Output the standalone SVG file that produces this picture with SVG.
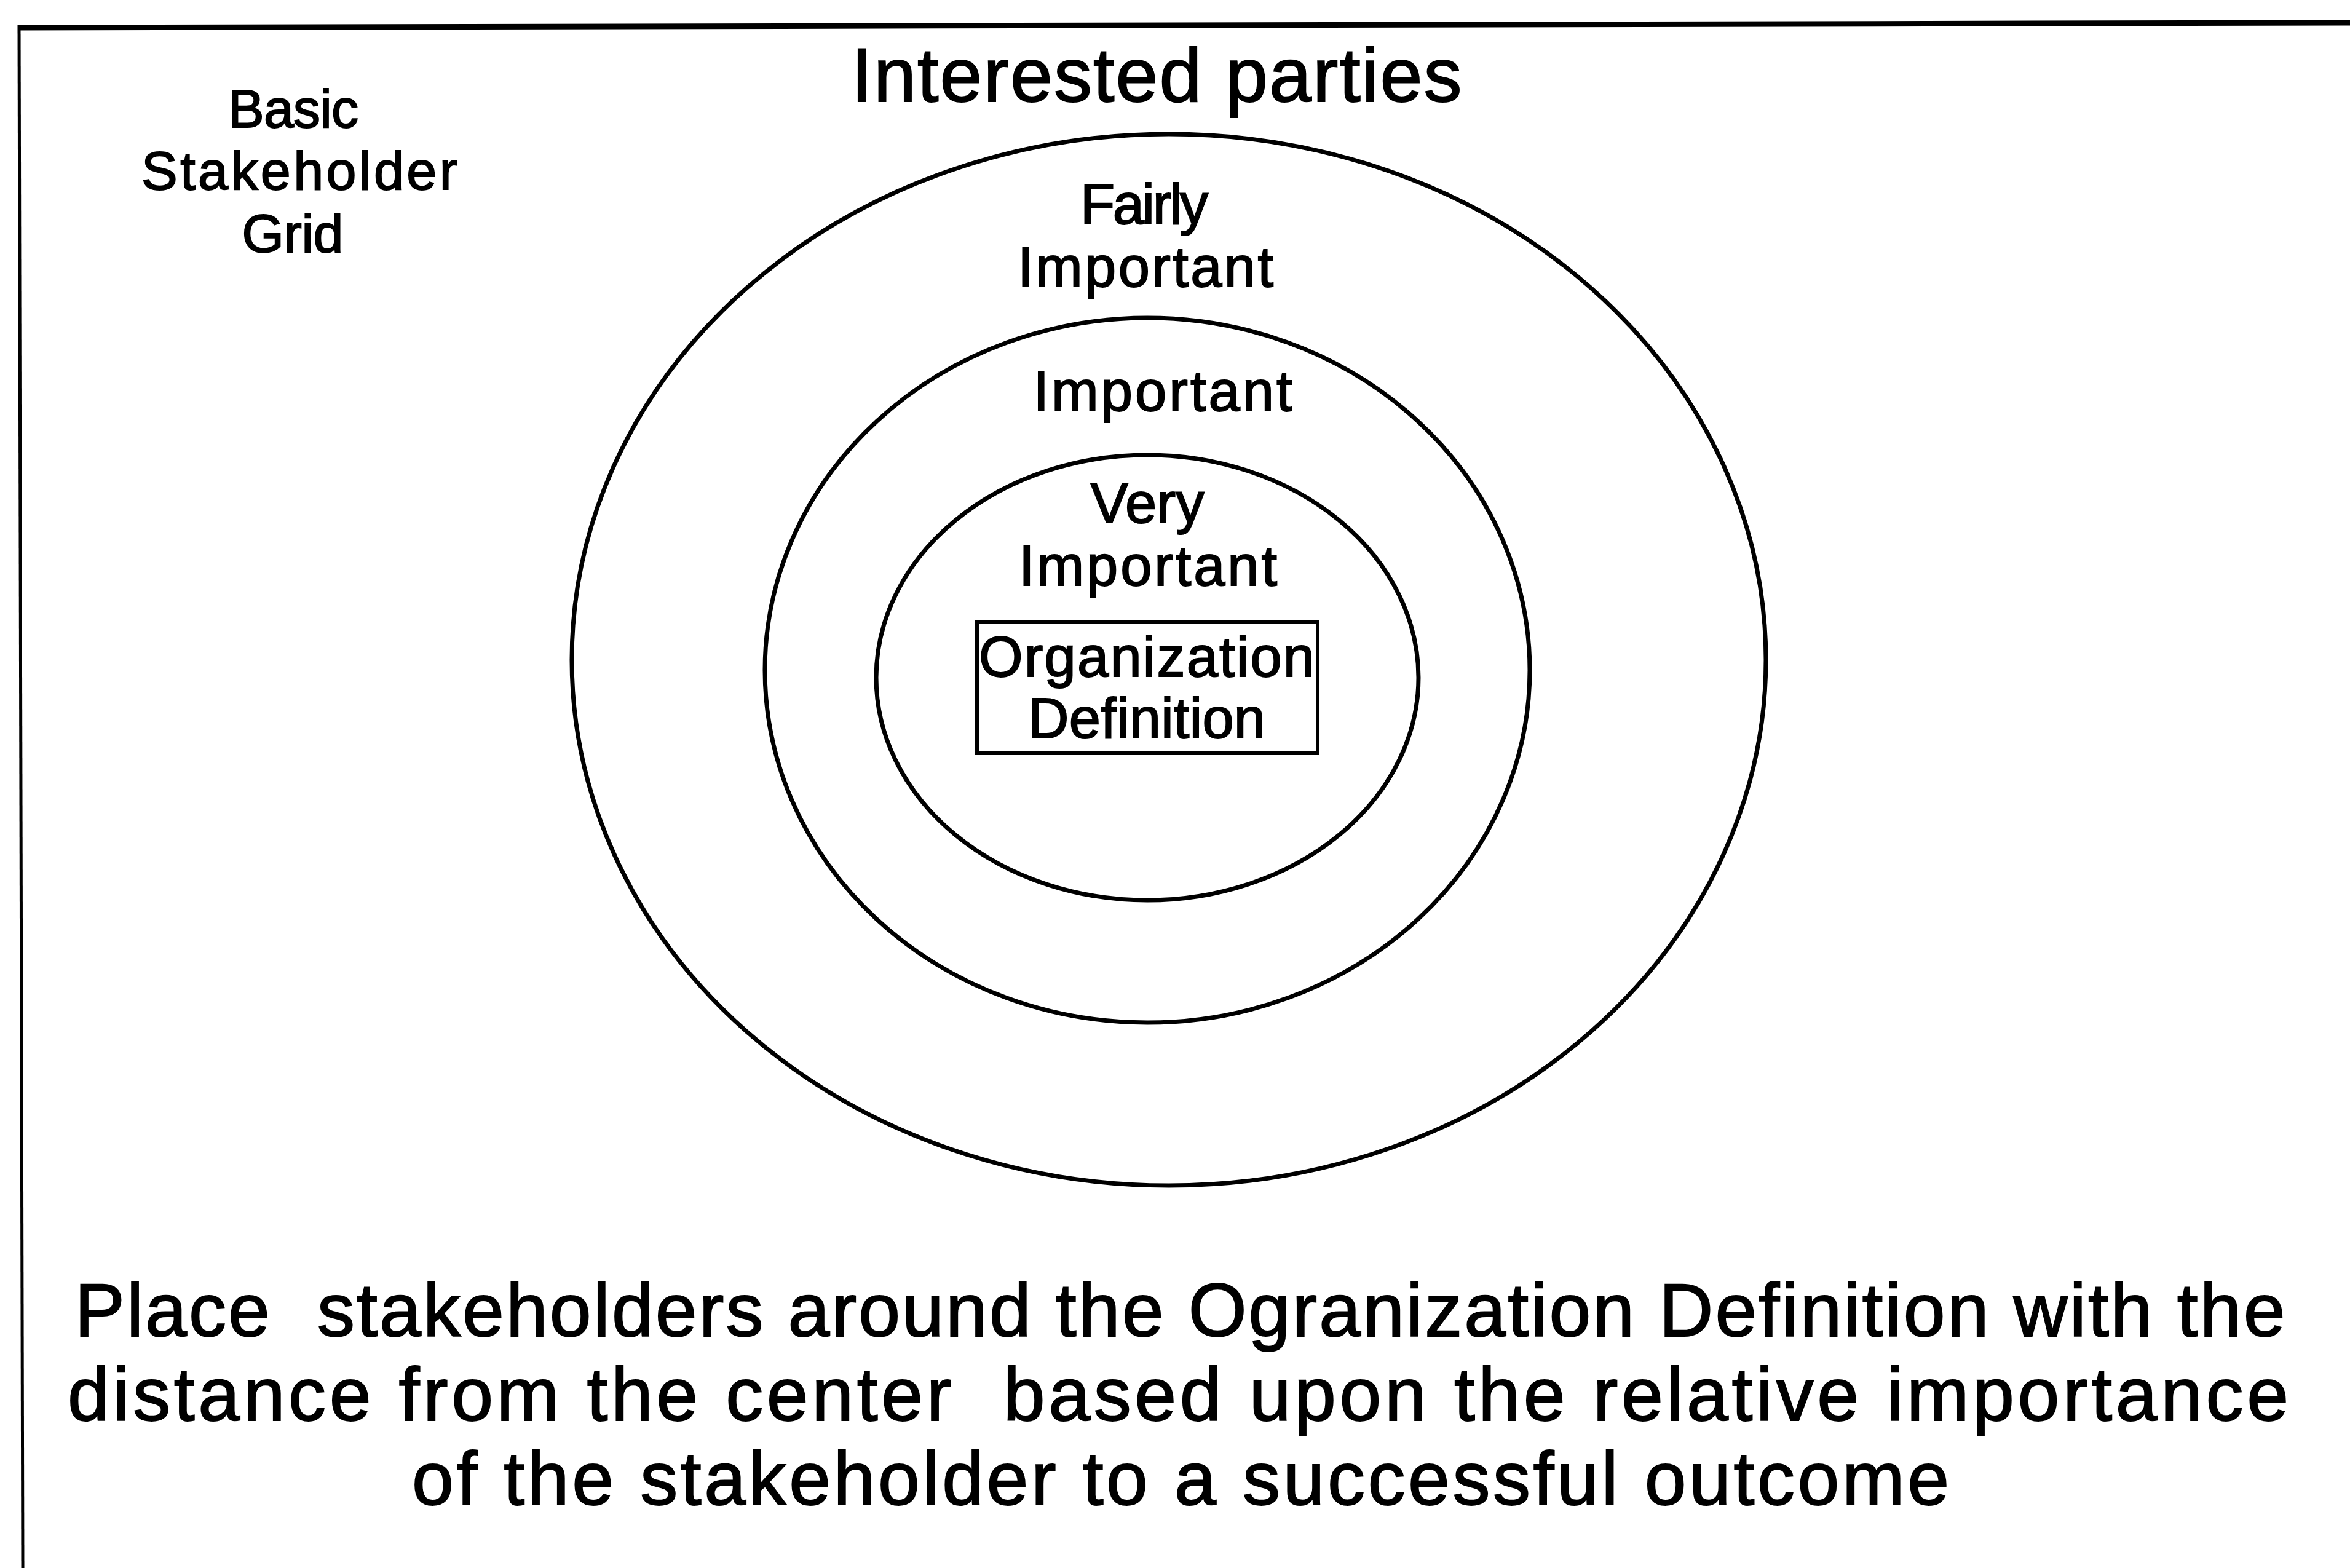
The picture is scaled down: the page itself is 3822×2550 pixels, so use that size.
<svg xmlns="http://www.w3.org/2000/svg" width="3822" height="2550" viewBox="0 0 3822 2550">
  <style>
    .ring { fill: none; stroke: #000; stroke-width: 7; }
    .frame { fill: none; stroke: #000; }
    text { font-family: "Liberation Sans", Arial, sans-serif; fill: #000; stroke: #000; stroke-width: 2; text-anchor: middle; }
    .title { font-size: 124px; }
    .side { font-size: 88px; }
    .lbl { font-size: 92px; }
    .note { font-size: 122px; white-space: pre; }
  </style>
  <rect width="3822" height="2550" fill="#fff"/>

  <!-- page frame: top and left edges -->
  <g id="frame">
    <line class="frame" x1="29" y1="45" x2="3822" y2="37" stroke-width="9"/>
    <line class="frame" x1="31" y1="41" x2="37" y2="2550" stroke-width="5"/>
  </g>

  <g id="title">
    <text class="title" x="1881" y="165" textLength="993">Interested parties</text>
  </g>

  <g id="grid-label">
    <text class="side" x="477" y="207" textLength="212">Basic</text>
    <text class="side" x="487" y="308" textLength="514">Stakeholder</text>
    <text class="side" x="476" y="410" textLength="165">Grid</text>
  </g>

  <!-- concentric importance rings -->
  <g id="ring-fairly">
    <ellipse class="ring" cx="1901" cy="1073" rx="971" ry="855"/>
    <text class="lbl" x="1861" y="364" textLength="208">Fairly</text>
    <text class="lbl" x="1863" y="466" textLength="416">Important</text>
  </g>
  <g id="ring-important">
    <ellipse class="ring" cx="1866" cy="1090" rx="622" ry="573"/>
    <text class="lbl" x="1891" y="668" textLength="421">Important</text>
  </g>
  <g id="ring-very">
    <ellipse class="ring" cx="1866" cy="1102" rx="441" ry="362"/>
    <text class="lbl" x="1866" y="850" textLength="185">Very</text>
    <text class="lbl" x="1867" y="952" textLength="420">Important</text>
  </g>

  <g id="org-definition">
    <rect x="1589" y="1012" width="554" height="213" fill="none" stroke="#000" stroke-width="6"/>
    <text class="lbl" x="1865" y="1100" textLength="546">Organization</text>
    <text class="lbl" x="1865" y="1200" textLength="386">Definition</text>
  </g>

  <g id="connectors"></g>

  <g id="note">
    <text class="note" x="1919" y="2173" textLength="3595">Place  stakeholders around the Ogranization Definition with the</text>
    <text class="note" x="1916" y="2310" textLength="3612">distance from the center  based upon the relative importance</text>
    <text class="note" x="1920" y="2447" textLength="2500">of the stakeholder to a successful outcome</text>
  </g>
</svg>
